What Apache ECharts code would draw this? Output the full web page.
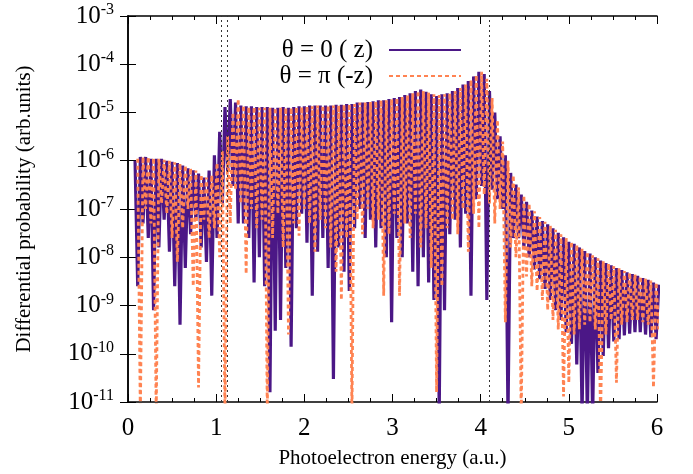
<!DOCTYPE html>
<html>
<head>
<meta charset="utf-8">
<script src="https://cdn.jsdelivr.net/npm/echarts@6/dist/echarts.min.js"></script>
<style>
  html, body { margin: 0; padding: 0; background: #fff; }
  #chart { width: 693px; height: 474px; }
</style>
</head>
<body>
<div id="chart"></div>
<script>
// sample grid of the two curves (orange one sits half a period later)
var startZ = 0.08;
var startPi = 0.11;
var step = 0.03;

// theta = 0 (z)
var probZ = [
  1.0e-6, 2.5e-9, 1.2e-6, 5e-8, 1.2e-6, 2.5e-8, 1.1e-6, 8e-10, 1.1e-6, 1.6e-8,
  1.1e-6, 6e-8, 1.0e-6, 1.3e-8, 9.5e-7, 2.5e-9, 9e-7, 4e-10, 8e-7, 6e-9,
  7e-7, 3e-8, 6.3e-7, 6e-8, 5.4e-7, 1.6e-8, 4.5e-7, 8e-9, 6.3e-7, 1.6e-9,
  1.3e-6, 2.5e-8, 4e-6, 1.3e-7, 1.3e-5, 6e-7, 1.9e-5, 3e-7, 1.6e-5, 5e-8,
  1.4e-5, 5e-8, 1.35e-5, 2.5e-8, 1.35e-5, 3e-9, 1.3e-5, 1e-8, 1.3e-5, 2.5e-9,
  1.3e-5, 1.6e-11, 1.25e-5, 3e-10, 1.25e-5, 5e-10, 1.3e-5, 6e-9, 1.25e-5, 1.4e-10,
  1.3e-5, 4e-8, 1.35e-5, 8e-8, 1.35e-5, 2e-8, 1.4e-5, 1.6e-9, 1.4e-5, 1.3e-8,
  1.4e-5, 2.5e-8, 1.4e-5, 6e-9, 1.4e-5, 3e-11, 1.45e-5, 1.6e-8, 1.45e-5, 5e-9,
  1.5e-5, 2e-9, 1.5e-5, 4e-8, 1.6e-5, 1e-7, 1.6e-5, 2.5e-8, 1.65e-5, 6e-8,
  1.7e-5, 1.6e-8, 1.8e-5, 4e-8, 1.8e-5, 1e-8, 1.9e-5, 4.5e-10, 2e-5, 2.5e-8,
  2.1e-5, 1e-8, 2.3e-5, 5e-8, 2.5e-5, 5e-9, 2.8e-5, 2.5e-9, 3e-5, 1e-8,
  2.7e-5, 3e-9, 2.4e-5, 1.3e-9, 2.2e-5, 6e-12, 2.4e-5, 8e-10, 2.5e-5, 3e-8,
  2.8e-5, 6e-8, 3.2e-5, 1.6e-8, 3.8e-5, 8e-8, 4.5e-5, 1.6e-9, 5.6e-5, 1.6e-7,
  7e-5, 3e-7, 6.3e-5, 1.3e-9, 2.8e-5, 2.5e-7, 1e-5, 1.6e-7, 3.2e-6, 1e-7,
  1.3e-6, 5e-12, 5.6e-7, 2.5e-8, 3.2e-7, 2.5e-8, 2e-7, 1.6e-8, 1.4e-7, 1e-8,
  9.3e-8, 5.6e-9, 7e-8, 3.5e-9, 5.6e-8, 2.2e-9, 4.8e-8, 1.3e-9, 4e-8, 8e-10,
  3.2e-8, 5e-10, 2.6e-8, 2.8e-10, 2.1e-8, 1.6e-10, 1.9e-8, 6e-11, 1.6e-8, 6e-12,
  1.35e-8, 5e-12, 1.2e-8, 5e-12, 1e-8, 4e-11, 8.5e-9, 9e-11, 7.6e-9, 1.3e-10,
  6.8e-9, 1.8e-10, 6e-9, 2e-10, 5.4e-9, 2.4e-10, 4.9e-9, 2.6e-10, 4.5e-9, 2.8e-10,
  4.1e-9, 2.8e-10, 3.7e-9, 2.5e-10, 3.4e-9, 2.2e-10, 3e-9, 2e-10, 2.7e-9
];

// theta = pi (-z)
var probPi = [
  1.1e-6, 5e-12, 1.2e-6, 1e-7, 1.2e-6, 5e-8, 1.15e-6, 5e-12, 1.1e-6, 1.3e-7,
  1.05e-6, 8e-8, 1e-6, 2.5e-8, 9.3e-7, 8e-9, 8.7e-7, 4e-8, 8e-7, 1e-7,
  7e-7, 2.5e-9, 6.3e-7, 2e-11, 5.2e-7, 6e-8, 4.5e-7, 2.5e-8, 5e-7, 4e-8,
  9e-7, 1e-8, 1.6e-6, 5e-12, 3.2e-6, 5e-8, 1e-5, 2.5e-7, 1.9e-5, 1.3e-7,
  1.4e-5, 4.5e-9, 1.3e-5, 1e-7, 1.3e-5, 4e-8, 1.25e-5, 6e-8, 1.25e-5, 5e-12,
  1.25e-5, 2.5e-8, 1.25e-5, 8e-8, 1.25e-5, 1.6e-8, 1.25e-5, 2.5e-10, 1.25e-5, 5e-8,
  1.3e-5, 2.8e-8, 1.3e-5, 1e-7, 1.35e-5, 5e-8, 1.35e-5, 1.3e-8, 1.4e-5, 6e-8,
  1.4e-5, 4e-8, 1.4e-5, 1.6e-8, 1.4e-5, 5e-9, 1.4e-5, 1.3e-9, 1.45e-5, 2.5e-8,
  1.5e-5, 5e-12, 1.5e-5, 6e-8, 1.6e-5, 3e-8, 1.6e-5, 1e-7, 1.65e-5, 4e-8,
  1.7e-5, 6e-8, 1.8e-5, 1.6e-9, 1.8e-5, 3e-8, 1.9e-5, 8e-8, 2e-5, 1.6e-9,
  2.1e-5, 5e-8, 2.3e-5, 2.5e-8, 2.5e-5, 8e-8, 2.8e-5, 1.6e-8, 2.8e-5, 4e-8,
  2.6e-5, 6e-9, 2.4e-5, 1.6e-11, 2.3e-5, 2.5e-9, 2.4e-5, 4e-8, 2.5e-5, 6e-8,
  2.8e-5, 3e-8, 3.2e-5, 1e-7, 3.8e-5, 1.3e-8, 4.7e-5, 8e-8, 6e-5, 4e-8,
  7e-5, 2e-7, 5e-5, 1.3e-7, 2e-5, 5e-8, 7e-6, 1e-7, 2.5e-6, 4.5e-10,
  1e-6, 1.6e-8, 5e-7, 1e-8, 2.8e-7, 5e-12, 1.9e-7, 4e-9, 1.3e-7, 2.5e-9,
  9e-8, 2e-9, 6.8e-8, 1.3e-9, 5.4e-8, 8e-10, 4.5e-8, 5e-10, 3.7e-8, 3.2e-10,
  3e-8, 1.3e-11, 2.5e-8, 2.5e-11, 2.1e-8, 2.5e-10, 1.8e-8, 3.2e-10, 1.5e-8, 4e-10,
  1.3e-8, 4.5e-10, 1.1e-8, 3.2e-10, 9.5e-9, 5e-12, 8.3e-9, 2.5e-10, 7.4e-9, 5e-10,
  6.6e-9, 2.5e-11, 5.9e-9, 4e-10, 5.2e-9, 4.5e-10, 4.8e-9, 5e-10, 4.4e-9, 5e-10,
  4e-9, 4.5e-10, 3.6e-9, 4e-10, 3.3e-9, 2e-11, 3e-9, 3.2e-10
];

// dotted guide lines (a.u.)
var guideLines = [1.065, 1.133, 4.10];

var seriesNames = ['θ = 0 ( z)', 'θ = π (-z)'];

function toPairs(start, values) {
  var out = [];
  for (var i = 0; i < values.length; i++) {
    out.push([+(start + i * step).toFixed(3), values[i]]);
  }
  return out;
}

var serif = 'Liberation Serif';
var tickStyle = { color: '#000', width: 1 };

var chart = echarts.init(document.getElementById('chart'));
chart.setOption({
  animation: false,
  backgroundColor: '#fff',
  grid: { left: 128, right: 36, top: 16, bottom: 71 },
  legend: {
    orient: 'vertical',
    align: 'right',
    right: 226,
    top: 32,
    itemWidth: 72,
    itemHeight: 10,
    itemGap: 0,
    itemStyle: { opacity: 0 },
    textStyle: { fontFamily: serif, fontSize: 25, color: '#000', lineHeight: 26, padding: [0, 11, 0, 0] },
    data: seriesNames
  },
  xAxis: [
    {
      type: 'value', min: 0, max: 6, interval: 1,
      position: 'bottom',
      axisLine: { lineStyle: { color: '#000', width: 1.5 } },
      axisTick: { inside: true, length: 8, lineStyle: tickStyle },
      minorTick: { show: true, splitNumber: 4, length: 4, lineStyle: tickStyle },
      splitLine: { show: false },
      axisLabel: { fontFamily: serif, fontSize: 25, color: '#000', margin: 14 },
      name: 'Photoelectron energy (a.u.)',
      nameLocation: 'middle',
      nameGap: 46,
      nameTextStyle: { fontFamily: serif, fontSize: 21, color: '#000' }
    },
    {
      type: 'value', min: 0, max: 6, interval: 1,
      position: 'top',
      axisLine: { lineStyle: { color: '#000', width: 1.5 } },
      axisTick: { inside: true, length: 8, lineStyle: tickStyle },
      minorTick: { show: true, splitNumber: 4, length: 4, lineStyle: tickStyle },
      splitLine: { show: false },
      axisLabel: { show: false }
    }
  ],
  yAxis: [
    {
      type: 'log', logBase: 10, min: 1e-11, max: 1e-3, splitNumber: 8,
      position: 'left',
      axisLine: { show: true, lineStyle: { color: '#000', width: 1.5 } },
      axisTick: { show: true, inside: true, length: 8, lineStyle: tickStyle },
      splitLine: { show: false },
      axisLabel: {
        margin: 14,
        color: '#000',
        formatter: function (v) {
          var e = Math.round(Math.log10(v));
          return '{b|10}{s|' + e + '}';
        },
        rich: {
          b: { fontFamily: serif, fontSize: 25, color: '#000' },
          s: { fontFamily: serif, fontSize: 16, color: '#000', padding: [0, 0, 12, 0] }
        }
      },
      name: 'Differential probability (arb.units)',
      nameLocation: 'middle',
      nameGap: 93,
      nameTextStyle: { fontFamily: serif, fontSize: 21, color: '#000' }
    },
    {
      type: 'log', logBase: 10, min: 1e-11, max: 1e-3, splitNumber: 8,
      position: 'right',
      axisLine: { show: true, lineStyle: { color: '#000', width: 1.5 } },
      axisTick: { show: true, inside: true, length: 8, lineStyle: tickStyle },
      splitLine: { show: false },
      axisLabel: { show: false }
    }
  ],
  series: [
    {
      name: seriesNames[0],
      type: 'line',
      showSymbol: false,
      symbol: 'none',
      color: '#4b1786',
      lineStyle: { width: 3.2, color: '#4b1786' },
      data: toPairs(startZ, probZ),
      markLine: {
        silent: true,
        symbol: 'none',
        label: { show: false },
        lineStyle: { type: [2, 3], color: '#333', width: 1 },
        data: guideLines.map(function (x) { return { xAxis: x }; })
      }
    },
    {
      name: seriesNames[1],
      type: 'line',
      showSymbol: false,
      symbol: 'none',
      color: '#ff8352',
      lineStyle: { width: 2.8, color: '#ff8352', type: [4, 3] },
      data: toPairs(startPi, probPi)
    }
  ]
});
</script>
</body>
</html>
